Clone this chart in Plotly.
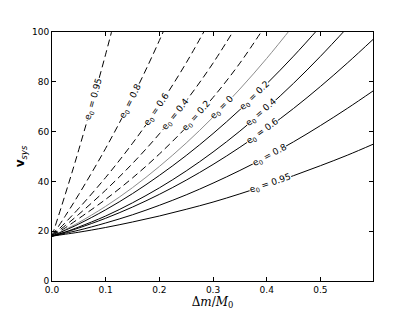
import plotly.graph_objects as go

# x values (Delta m / M0)
dm = [0, 0.025, 0.05, 0.1, 0.15, 0.2, 0.25, 0.3, 0.35, 0.4, 0.45, 0.5, 0.55, 0.6]

# dashed family
v_dash_095 = [18, 35.0, 52.8, 91.1, 133.4]
v_dash_080 = [18, 26.2, 34.8, 53.3, 73.8, 96.6, 122.1]
v_dash_060 = [18, 23.5, 29.2, 41.6, 55.3, 70.5, 87.6, 106.8]
v_dash_040 = [18, 22.3, 26.8, 36.5, 47.2, 59.1, 72.4, 87.5, 104.7]
v_dash_020 = [18, 21.4, 25.1, 32.8, 41.4, 51.0, 61.7, 73.7, 87.5, 103.4]
# e0 = 0 (grey)
v_e0_000 = [18, 20.7, 23.5, 30.0, 37.5, 46.0, 55.4, 65.8, 77.1, 89.4, 102.7]
# solid family
v_solid_020 = [18, 20.4, 22.9, 28.6, 35.1, 42.4, 50.4, 59.2, 68.8, 79.2, 90.3, 102.2]
v_solid_040 = [18, 19.7, 21.7, 26.1, 31.4, 37.4, 44.2, 51.8, 60.2, 69.4, 79.4, 90.2, 101.7]
v_solid_060 = [18, 19.6, 21.3, 25.2, 29.7, 34.8, 40.5, 46.8, 53.7, 61.2, 69.3, 78.1, 87.5, 97.4]
v_solid_080 = [18, 19.2, 20.4, 23.3, 26.6, 30.4, 34.6, 39.3, 44.4, 49.9, 55.9, 62.4, 69.3, 76.6]
v_solid_095 = [18, 18.8, 19.6, 21.5, 23.7, 26.1, 28.8, 31.7, 35.0, 38.5, 42.3, 46.3, 50.5, 55.1]

# contour labels: text, x, y, angle
label_text = ["0.95", "0.8", "0.6", "0.4", "0.2", "0", "0.2", "0.4", "0.6", "0.8", "0.95"]
label_x = [0.077, 0.146, 0.195, 0.230, 0.270, 0.317, 0.378, 0.390, 0.392, 0.405, 0.407]
label_y = [73.0, 72.1, 68.9, 66.9, 66.3, 69.5, 74.5, 67.5, 60.0, 50.5, 39.0]
label_angle = [-74, -63, -56, -51, -48, -46, -44, -41, -36, -28, -19]

x_ticks = [0, 0.1, 0.2, 0.3, 0.4, 0.5]
y_ticks = [0, 20, 40, 60, 80, 100]

fig = go.Figure()

def add_line(vals, dash, color):
    fig.add_trace(go.Scatter(
        x=dm[:len(vals)], y=vals, mode="lines",
        line=dict(color=color, width=1, dash=dash, shape="spline", smoothing=1.0),
        showlegend=False, hoverinfo="skip"))

for v in [v_dash_095, v_dash_080, v_dash_060, v_dash_040, v_dash_020]:
    add_line(v, "7px,4px", "black")
add_line(v_e0_000, "solid", "#8c8c8c")
for v in [v_solid_020, v_solid_040, v_solid_060, v_solid_080, v_solid_095]:
    add_line(v, "solid", "black")

for t, x, y, a in zip(label_text, label_x, label_y, label_angle):
    fig.add_annotation(
        x=x, y=y, xref="x", yref="y", showarrow=False,
        text="e<sub>0</sub> = " + t, textangle=a,
        font=dict(family="DejaVu Sans", size=9, color="black"),
        bgcolor="white", borderpad=0)

axis_common = dict(
    showline=True, linecolor="black", linewidth=1, mirror="ticks",
    ticks="inside", ticklen=4, tickcolor="black", tickwidth=1,
    showgrid=False, zeroline=False, automargin=False,
    tickfont=dict(family="DejaVu Sans", size=9, color="black"),
)

fig.update_xaxes(range=[0, 0.598], tickvals=x_ticks, tickformat=".1f",
                 title=dict(text="Δ<i>m</i>/<i>M</i><sub>0</sub>",
                            font=dict(family="DejaVu Serif", size=12, color="black"),
                            standoff=3),
                 **axis_common)
fig.update_yaxes(range=[0, 100], tickvals=y_ticks,
                 title=dict(text="<b>v</b><sub><i>sys</i></sub>",
                            font=dict(family="DejaVu Sans", size=12, color="black"),
                            standoff=4),
                 **axis_common)

fig.update_layout(
    width=415, height=312,
    margin=dict(l=52, r=42, t=32, b=31),
    paper_bgcolor="white", plot_bgcolor="white",
)

fig.write_html("out.html", config={"displayModeBar": False})

# remove the browser's default page margin so the figure sits at the window's corner
with open("out.html", "r", encoding="utf-8") as fh:
    html = fh.read()
html = html.replace("<head>", "<head><style>html,body{margin:0;padding:0;}</style>", 1)
with open("out.html", "w", encoding="utf-8") as fh:
    fh.write(html)
